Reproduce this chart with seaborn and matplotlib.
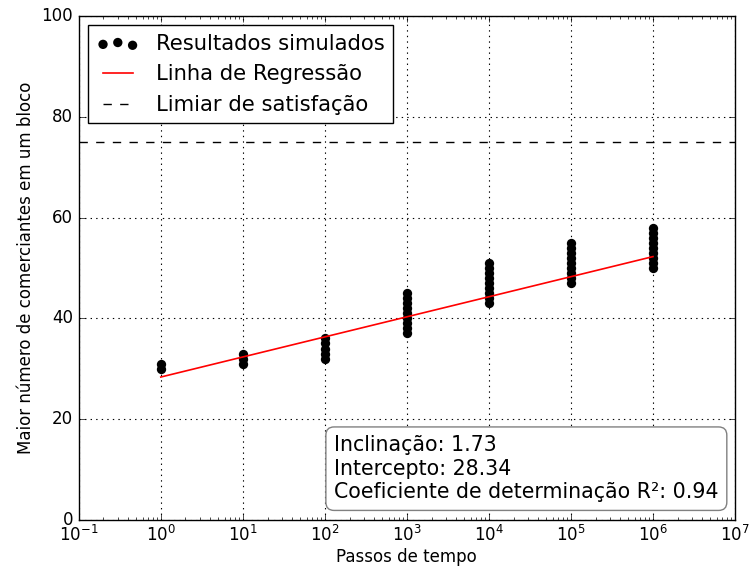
import numpy as np
import pandas as pd
import matplotlib
matplotlib.use("Agg")
import matplotlib.pyplot as plt
import seaborn as sns

# Data
steps = [1e0, 1e1, 1e2, 1e3, 1e4, 1e5, 1e6]
values_1e0 = [30, 31]
values_1e1 = [31, 32, 33]
values_1e2 = [32, 33, 34, 35, 36]
values_1e3 = [37, 38, 39, 40, 41, 42, 43, 44, 45]
values_1e4 = [43, 44, 45, 46, 47, 48, 49, 50, 51]
values_1e5 = [47, 48, 49, 50, 51, 52, 53, 54, 55]
values_1e6 = [50, 51, 52, 53, 54, 55, 56, 57, 58]
slope = 1.73
intercept = 28.34
r2 = 0.94
threshold = 75

groups = [values_1e0, values_1e1, values_1e2, values_1e3, values_1e4, values_1e5, values_1e6]
df = pd.DataFrame({
    "x": [s for s, g in zip(steps, groups) for _ in g],
    "y": [v for g in groups for v in g],
})
line_x = np.array([steps[0], steps[-1]])
line_df = pd.DataFrame({"x": line_x, "y": intercept + slope * np.log(line_x)})

plt.style.use("classic")
plt.rcParams["font.family"] = ["DejaVu Sans"]

fig = plt.figure(figsize=(7.5, 5.7), dpi=100, facecolor="white")
ax = fig.add_axes([0.105, 0.088, 0.875, 0.884])

sns.scatterplot(data=df, x="x", y="y", ax=ax, color="black", s=45,
                edgecolor="black", linewidth=0, label="Resultados simulados", zorder=3)
sns.lineplot(data=line_df, x="x", y="y", ax=ax, color="red", lw=1.2,
             label="Linha de Regressão", zorder=4)
ax.axhline(threshold, color="black", ls="--", lw=1.0, label="Limiar de satisfação")

ax.set_xscale("log")
ax.set_xlim(1e-1, 1e7)
ax.set_ylim(0, 100)
ax.grid(True, color="black", linestyle=":", linewidth=0.8)
ax.set_xlabel("Passos de tempo", fontsize=12, labelpad=2)
ax.set_ylabel("Maior número de comerciantes em um bloco", fontsize=12)
ax.tick_params(labelsize=12)

leg = ax.legend(loc="upper left", scatterpoints=3, fontsize=15.2, fancybox=False,
                borderaxespad=0.45)
leg.get_frame().set_edgecolor("black")

ax.text(0.975, 0.035,
        f"Inclinação: {slope:.2f}\nIntercepto: {intercept:.2f}\nCoeficiente de determinação R²: {r2:.2f}",
        transform=ax.transAxes, ha="right", va="bottom", multialignment="left",
        fontsize=14.8, linespacing=1.22,
        bbox=dict(boxstyle="round,pad=0.4", facecolor="white", edgecolor="gray"), zorder=5)

fig.savefig("out.png", dpi=100, facecolor="white")
